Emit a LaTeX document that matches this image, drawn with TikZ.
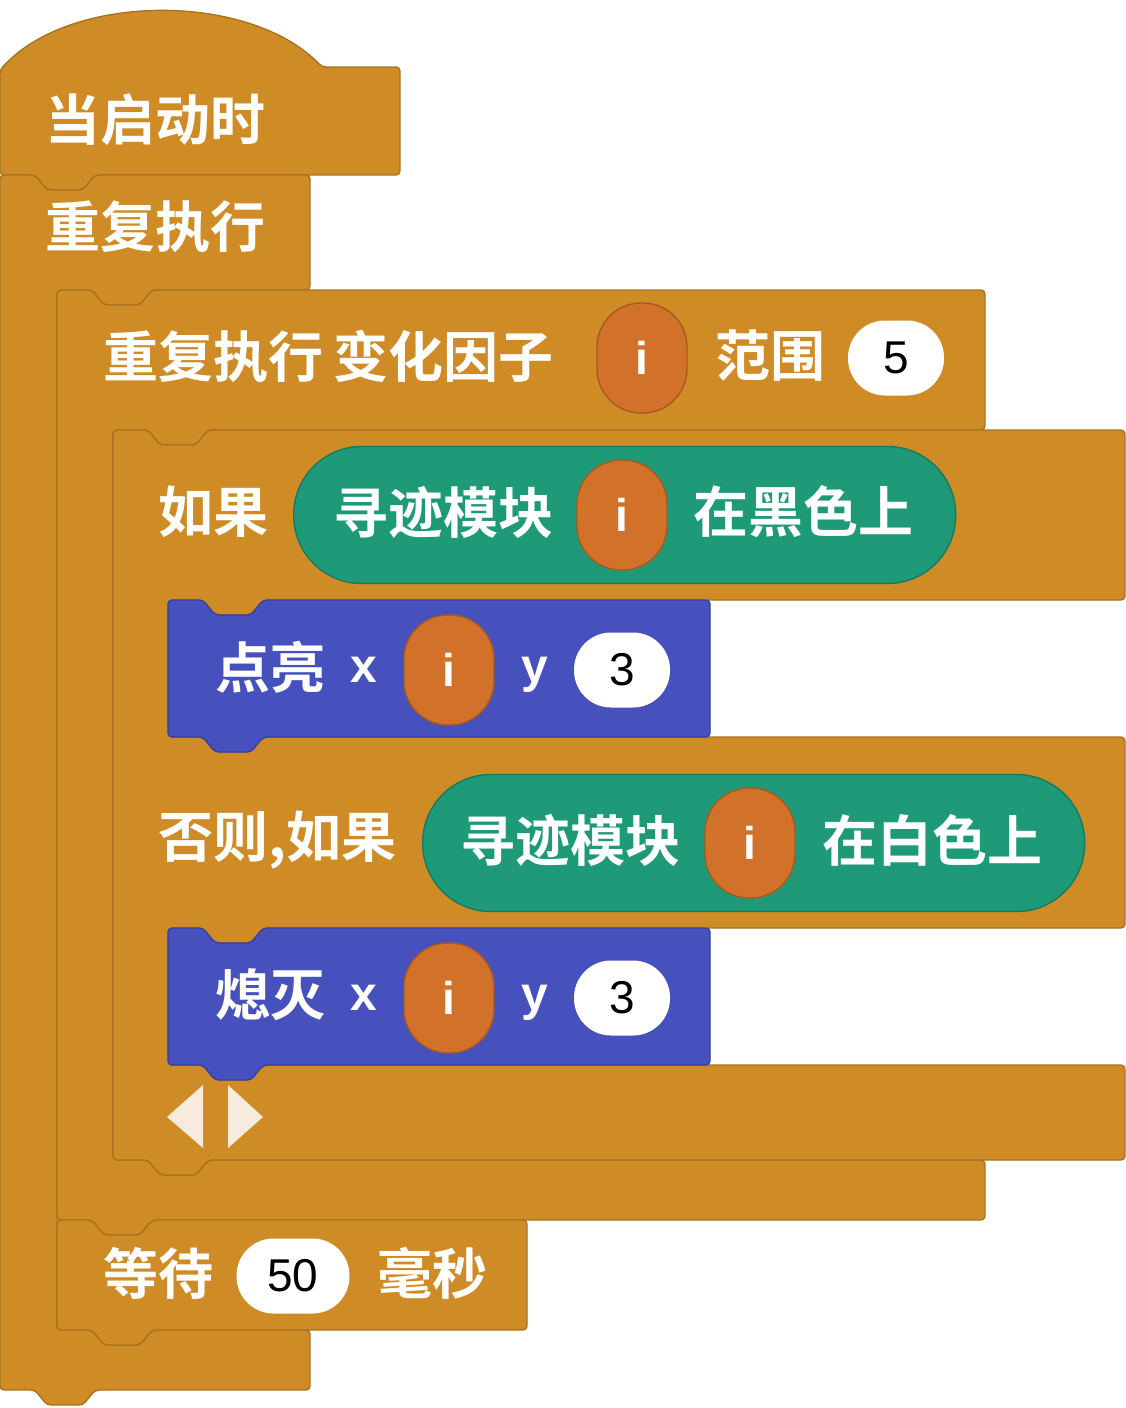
\documentclass[tikz,border=0pt]{standalone}
\usepackage{fontspec}
\newfontfamily\cjk{Noto Sans CJK SC}[BoldFont={Noto Sans CJK SC Bold}]
\setmainfont{Liberation Sans}
\definecolor{ctl}{HTML}{CF8B25}
\definecolor{ctlb}{HTML}{A9721F}
\definecolor{var}{HTML}{D2712A}
\definecolor{varb}{HTML}{A85A1E}
\definecolor{sen}{HTML}{1F9A79}
\definecolor{senb}{HTML}{187A60}
\definecolor{led}{HTML}{4651BE}
\definecolor{ledb}{HTML}{3540A0}
\definecolor{arw}{HTML}{F8EBDD}
\tikzset{
 blk/.style={fill=ctl,draw=ctlb,line width=1.4pt,rounded corners=4pt,line join=round},
 bblk/.style={fill=led,draw=ledb,line width=1.4pt,rounded corners=4pt,line join=round},
 lbl/.style={text=white,font=\cjk\bfseries\fontsize{55}{60}\selectfont,anchor=west,inner sep=0pt},
 lat/.style={text=white,font=\bfseries\fontsize{48}{52}\selectfont,inner sep=0pt},
 ipill/.style={fill=var,draw=varb,line width=1.4pt,rounded corners=44pt,minimum width=90pt,minimum height=110pt,text=white,font=\bfseries\fontsize{46}{50}\selectfont,inner sep=0pt},
 wpill/.style={fill=white,rounded corners=37pt,minimum width=96pt,minimum height=75pt,font=\fontsize{46}{50}\selectfont,inner sep=0pt},
 gpill/.style={fill=sen,draw=senb,line width=1.4pt,rounded corners=68pt,minimum width=662pt,minimum height=137pt,anchor=west,inner sep=0pt},
}
\begin{document}
\begin{tikzpicture}[x=1pt,y=-1pt]
\useasboundingbox (0,0) rectangle (1126,1408);
% hat
\draw[blk] (0,168) -- (0,70) .. controls (70,-8) and (250,-8) .. (322,67) -- (400,67) -- (400,175) -- (95,175) -- (83,190) -- (47,190) -- (35,175) -- (0,175) -- cycle;
% forever
\draw[blk] (0,175) -- (35,175) -- (47,190) -- (83,190) -- (95,175) -- (310,175) -- (310,290) -- (152,290) -- (140,305) -- (104,305) -- (92,290) -- (57,290) -- (57,1330) -- (92,1330) -- (104,1345) -- (140,1345) -- (152,1330) -- (310,1330) -- (310,1390) -- (95,1390) -- (83,1405) -- (47,1405) -- (35,1390) -- (0,1390) -- cycle;
% repeat range
\draw[blk] (57,290) -- (92,290) -- (104,305) -- (140,305) -- (152,290) -- (985,290) -- (985,430) -- (208,430) -- (196,445) -- (160,445) -- (148,430) -- (113,430) -- (113,1160) -- (148,1160) -- (160,1175) -- (196,1175) -- (208,1160) -- (985,1160) -- (985,1220) -- (152,1220) -- (140,1235) -- (104,1235) -- (92,1220) -- (57,1220) -- cycle;
% if else
\draw[blk] (113,430) -- (148,430) -- (160,445) -- (196,445) -- (208,430) -- (1125,430) -- (1125,600) -- (263,600) -- (251,615) -- (215,615) -- (203,600) -- (168,600) -- (168,737) -- (203,737) -- (215,752) -- (251,752) -- (263,737) -- (1125,737) -- (1125,928) -- (263,928) -- (251,943) -- (215,943) -- (203,928) -- (168,928) -- (168,1065) -- (203,1065) -- (215,1080) -- (251,1080) -- (263,1065) -- (1125,1065) -- (1125,1160) -- (208,1160) -- (196,1175) -- (160,1175) -- (148,1160) -- (113,1160) -- cycle;
% blue blocks
\draw[bblk] (168,600) -- (203,600) -- (215,615) -- (251,615) -- (263,600) -- (710,600) -- (710,737) -- (263,737) -- (251,752) -- (215,752) -- (203,737) -- (168,737) -- cycle;
\draw[bblk] (168,928) -- (203,928) -- (215,943) -- (251,943) -- (263,928) -- (710,928) -- (710,1065) -- (263,1065) -- (251,1080) -- (215,1080) -- (203,1065) -- (168,1065) -- cycle;
% wait
\draw[blk] (57,1220) -- (92,1220) -- (104,1235) -- (140,1235) -- (152,1220) -- (527,1220) -- (527,1330) -- (152,1330) -- (140,1345) -- (104,1345) -- (92,1330) -- (57,1330) -- cycle;
% texts
\node[lbl] (t1) at (45,120) {当启动时};
\node[lbl] (t2) at (45,227) {重复执行};
\node[lbl] (t3) at (103,356) {重复执行\hspace{10pt}变化因子};
\node[ipill] (p1) at (642,358) {i};
\node[lbl] (t4) at (715,356) {范围};
\node[wpill] (w1) at (896,358) {5};
\node[lbl] (t5) at (158,512) {如果};
\node[gpill] (g1) at (293,515) {};
\node[lbl] (t6) at (333,512) {寻迹模块};
\node[ipill] (p2) at (622,515) {i};
\node[lbl] (t7) at (693,512) {在黑色上};
\node[lbl] (t8) at (215,667) {点亮};
\node[lat] (x1) at (364,670) {x};
\node[ipill] (p3) at (449,670) {i};
\node[lat] (y1) at (535,675) {y};
\node[wpill] (w2) at (622,670) {3};
\node[lbl] (t9) at (158,840) {否则,如果};
\node[gpill] (g2) at (422,843) {};
\node[lbl] (t10) at (460,840) {寻迹模块};
\node[ipill] (p4) at (750,843) {i};
\node[lbl] (t11) at (822,840) {在白色上};
\node[lbl] (t12) at (215,995) {熄灭};
\node[lat] (x2) at (364,998) {x};
\node[ipill] (p5) at (449,998) {i};
\node[lat] (y2) at (535,1003) {y};
\node[wpill] (w3) at (622,998) {3};
\fill[arw] (203,1085) -- (203,1148) -- (167,1117) -- cycle;
\fill[arw] (228,1085) -- (228,1148) -- (263,1117) -- cycle;
\node[lbl] (t13) at (103,1273) {等待};
\node[wpill,minimum width=113pt] (w4) at (293,1276) {50};
\node[lbl] (t14) at (377,1273) {毫秒};
\end{tikzpicture}
\end{document}
